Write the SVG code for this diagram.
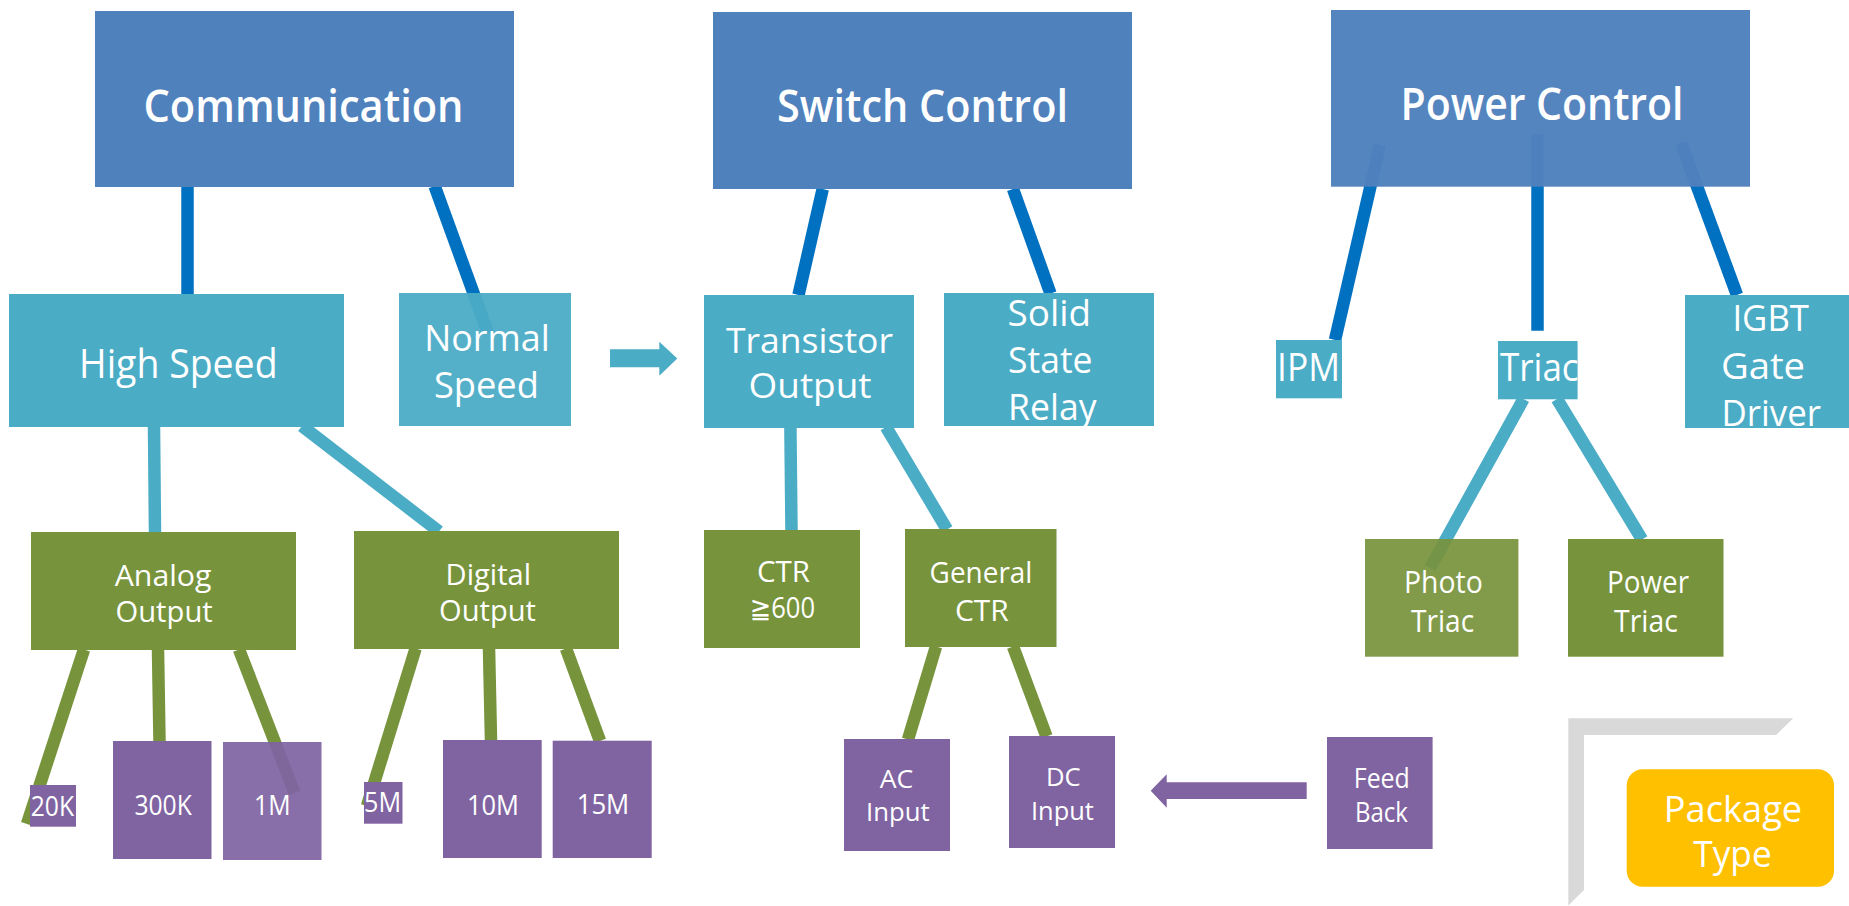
<svg xmlns="http://www.w3.org/2000/svg" width="1849" height="906" viewBox="0 0 1849 906">
<style>
text{font-family:"Open Sans","DejaVu Sans","Noto Sans CJK JP",sans-serif;fill:#fff;text-anchor:middle}
.t1{font-size:45px;font-weight:600}
.t2{font-size:37px}
.t3{font-size:28.5px}
.t4{font-size:26px}
.blueBox{fill:#4f81bd}
.tealBox{fill:#4bacc6}
.greenBox{fill:#77933c}
.purpleBox{fill:#8064a2}
.cb{stroke:#0070c0;stroke-width:12.5;fill:none}
.ct{stroke:#4bacc6;stroke-width:12.5;fill:none}
.cg{stroke:#77933c;stroke-width:12.5;fill:none}
</style>
<rect width="1849" height="906" fill="#fff"/>
<g id="connectors">
<line class="cb" x1="187.5" y1="186" x2="187.5" y2="294"/>
<line class="cb" x1="434.6" y1="186" x2="488" y2="333"/>
<line class="cb" x1="822.7" y1="189" x2="798.5" y2="295"/>
<line class="cb" x1="1013" y1="189" x2="1050.5" y2="293.5"/>
<line class="cb" x1="1380" y1="145" x2="1335" y2="340"/>
<line class="cb" x1="1537.5" y1="134" x2="1537.5" y2="330.7"/>
<line class="cb" x1="1681" y1="143" x2="1737" y2="295"/>
<line class="ct" x1="154" y1="426" x2="155" y2="532"/>
<line class="ct" x1="302" y1="426" x2="439" y2="531.5"/>
<line class="ct" x1="790.4" y1="427" x2="791.5" y2="530.5"/>
<line class="ct" x1="886" y1="427" x2="947" y2="529.5"/>
<line class="ct" x1="1523.5" y1="399" x2="1430" y2="568"/>
<line class="ct" x1="1557" y1="399" x2="1642" y2="539.5"/>
<line class="cg" x1="84" y1="649.5" x2="27" y2="824"/>
<line class="cg" x1="158" y1="649.5" x2="159.5" y2="741.5"/>
<line class="cg" x1="239" y1="649.5" x2="294.6" y2="793"/>
<line class="cg" x1="415.6" y1="648.5" x2="367" y2="806"/>
<line class="cg" x1="489" y1="648.5" x2="491" y2="740.5"/>
<line class="cg" x1="566" y1="648.5" x2="600" y2="741"/>
<line class="cg" x1="936" y1="646.5" x2="908" y2="739.5"/>
<line class="cg" x1="1013" y1="646.5" x2="1046.5" y2="736.5"/>
<polygon fill="#4bacc6" points="610,349.3 659.3,349.3 659.3,341.7 677.3,358.5 659.3,375.7 659.3,367.3 610,367.3"/>
<polygon fill="#8064a2" points="1306.7,782.3 1166.7,782.3 1166.7,774.3 1150.7,790.7 1166.7,807.7 1166.7,799 1306.7,799"/>
</g>
<g id="node-communication"><rect class="blueBox" x="95" y="11" width="419" height="176"/><text class="t1" x="303.5" y="121.7" textLength="320" lengthAdjust="spacingAndGlyphs">Communication</text></g>
<g id="node-switch-control"><rect class="blueBox" x="713" y="12" width="419" height="177"/><text class="t1" x="922.5" y="121.7" textLength="291" lengthAdjust="spacingAndGlyphs">Switch Control</text></g>
<g id="node-power-control"><rect class="blueBox" x="1331" y="10" width="419" height="176.7" fill-opacity="0.97"/><text class="t1" x="1542" y="120" textLength="283" lengthAdjust="spacingAndGlyphs">Power Control</text></g>
<g id="node-high-speed"><rect class="tealBox" x="9" y="294" width="335" height="133"/><text class="t2" x="178.3" y="378" textLength="198.5" lengthAdjust="spacingAndGlyphs" style="font-size:40px">High Speed</text></g>
<g id="node-normal-speed"><rect class="tealBox" x="399" y="293" width="172" height="133" fill-opacity="0.95"/><text class="t2" x="487" y="351" textLength="125.6" lengthAdjust="spacingAndGlyphs">Normal</text><text class="t2" x="486.4" y="397.7" textLength="105" lengthAdjust="spacingAndGlyphs">Speed</text></g>
<g id="node-transistor-output"><rect class="tealBox" x="704" y="295" width="210" height="133"/><text class="t2" x="809.5" y="353.3" textLength="167" lengthAdjust="spacingAndGlyphs" style="font-size:35.5px">Transistor</text><text class="t2" x="810" y="397.7" textLength="123" lengthAdjust="spacingAndGlyphs" style="font-size:35.5px">Output</text></g>
<g id="node-solid-state-relay"><rect class="tealBox" x="944" y="293" width="210" height="133"/><text class="t2" x="1049.3" y="325.7" textLength="83.5" lengthAdjust="spacingAndGlyphs">Solid</text><text class="t2" x="1050.3" y="373.3" textLength="84.5" lengthAdjust="spacingAndGlyphs">State</text><text class="t2" x="1052.3" y="420" textLength="88.5" lengthAdjust="spacingAndGlyphs">Relay</text></g>
<g id="node-ipm"><rect class="tealBox" x="1276" y="340" width="66" height="58.3"/><text class="t2" x="1308.5" y="381" textLength="63" lengthAdjust="spacingAndGlyphs" style="font-size:38px">IPM</text></g>
<g id="node-triac"><rect class="tealBox" x="1498" y="341" width="79.6" height="58.3"/><text class="t2" x="1539.3" y="381" textLength="78.6" lengthAdjust="spacingAndGlyphs" style="font-size:38px">Triac</text></g>
<g id="node-igbt"><rect class="tealBox" x="1685" y="295" width="170" height="133"/><text class="t2" x="1770.7" y="331" textLength="76.6" lengthAdjust="spacingAndGlyphs">IGBT</text><text class="t2" x="1763" y="379.3" textLength="84.2" lengthAdjust="spacingAndGlyphs">Gate</text><text class="t2" x="1771.3" y="426" textLength="99.5" lengthAdjust="spacingAndGlyphs">Driver</text></g>
<g id="node-analog-output"><rect class="greenBox" x="31" y="532" width="265" height="118"/><text class="t3" x="163.1" y="586" textLength="96.8" lengthAdjust="spacingAndGlyphs">Analog</text><text class="t3" x="164.1" y="621.7" textLength="97.2" lengthAdjust="spacingAndGlyphs">Output</text></g>
<g id="node-digital-output"><rect class="greenBox" x="354" y="531" width="265" height="118"/><text class="t3" x="488.3" y="585" textLength="85.4" lengthAdjust="spacingAndGlyphs">Digital</text><text class="t3" x="487.5" y="621" textLength="96.9" lengthAdjust="spacingAndGlyphs">Output</text></g>
<g id="node-ctr600"><rect class="greenBox" x="704" y="530" width="156" height="118"/><text class="t3" x="783.5" y="581.7" textLength="53" lengthAdjust="spacingAndGlyphs">CTR</text><text class="t3" x="782.4" y="618.3" textLength="65.3" lengthAdjust="spacingAndGlyphs">≧600</text></g>
<g id="node-general-ctr"><rect class="greenBox" x="905" y="529" width="151.5" height="118"/><text class="t3" x="981" y="582.7" textLength="102.8" lengthAdjust="spacingAndGlyphs" style="font-size:30px">General</text><text class="t3" x="981.9" y="620.7" textLength="53.7" lengthAdjust="spacingAndGlyphs" style="font-size:30px">CTR</text></g>
<g id="node-photo-triac"><rect class="greenBox" x="1365" y="539" width="153.4" height="117.7" fill-opacity="0.92"/><text class="t3" x="1443.4" y="592.7" textLength="78.7" lengthAdjust="spacingAndGlyphs" style="font-size:30.5px">Photo</text><text class="t3" x="1442.6" y="631.7" textLength="63" lengthAdjust="spacingAndGlyphs" style="font-size:30.5px">Triac</text></g>
<g id="node-power-triac"><rect class="greenBox" x="1568" y="539" width="155.5" height="117.7"/><text class="t3" x="1648" y="592.7" textLength="82" lengthAdjust="spacingAndGlyphs" style="font-size:30.5px">Power</text><text class="t3" x="1645.9" y="631.7" textLength="63.7" lengthAdjust="spacingAndGlyphs" style="font-size:30.5px">Triac</text></g>
<g id="node-20k"><rect class="purpleBox" x="30" y="785" width="46" height="41.7"/><text class="t4" x="52.4" y="815.7" textLength="43.3" lengthAdjust="spacingAndGlyphs" style="font-size:27px">20K</text></g>
<g id="node-300k"><rect class="purpleBox" x="113" y="741" width="98.5" height="118"/><text class="t4" x="163.1" y="815" textLength="57.4" lengthAdjust="spacingAndGlyphs" style="font-size:27px">300K</text></g>
<g id="node-1m"><rect class="purpleBox" x="223" y="742" width="98.5" height="118" fill-opacity="0.93"/><text class="t4" x="272.3" y="815" textLength="36.6" lengthAdjust="spacingAndGlyphs" style="font-size:27px">1M</text></g>
<g id="node-5m"><rect class="purpleBox" x="364" y="782" width="38.5" height="41.7"/><text class="t4" x="382.5" y="812.3" textLength="37" lengthAdjust="spacingAndGlyphs" style="font-size:27px">5M</text></g>
<g id="node-10m"><rect class="purpleBox" x="443" y="740" width="98.7" height="118"/><text class="t4" x="493" y="815" textLength="52" lengthAdjust="spacingAndGlyphs" style="font-size:27px">10M</text></g>
<g id="node-15m"><rect class="purpleBox" x="552.7" y="740.7" width="99" height="117.3"/><text class="t4" x="603" y="814" textLength="52.6" lengthAdjust="spacingAndGlyphs" style="font-size:27px">15M</text></g>
<g id="node-ac-input"><rect class="purpleBox" x="844" y="739" width="106" height="112"/><text class="t4" x="896.6" y="788.3" textLength="33.6" lengthAdjust="spacingAndGlyphs">AC</text><text class="t4" x="897.8" y="821" textLength="63.6" lengthAdjust="spacingAndGlyphs">Input</text></g>
<g id="node-dc-input"><rect class="purpleBox" x="1009" y="736" width="106" height="112"/><text class="t4" x="1063.4" y="786" textLength="34.7" lengthAdjust="spacingAndGlyphs">DC</text><text class="t4" x="1062.4" y="820" textLength="62.7" lengthAdjust="spacingAndGlyphs">Input</text></g>
<g id="node-feed-back"><rect class="purpleBox" x="1327" y="737" width="105.6" height="112"/><text class="t4" x="1381.8" y="787.7" textLength="56" lengthAdjust="spacingAndGlyphs" style="font-size:27px">Feed</text><text class="t4" x="1381.5" y="822.3" textLength="53" lengthAdjust="spacingAndGlyphs" style="font-size:27px">Back</text></g>
<g id="bracket"><polygon fill="#d9d9d9" points="1568.3,718.3 1793.3,718.3 1776,735 1584,735 1584,890 1568.3,905.5"/></g>
<g id="node-package-type"><rect x="1626.7" y="769.3" width="207.3" height="117.4" rx="16" fill="#ffc000"/><text class="t2" x="1733" y="821.7" textLength="138.3" lengthAdjust="spacingAndGlyphs" style="font-size:36px">Package</text><text class="t2" x="1732.5" y="866.7" textLength="78.4" lengthAdjust="spacingAndGlyphs" style="font-size:36px">Type</text></g>
</svg>
